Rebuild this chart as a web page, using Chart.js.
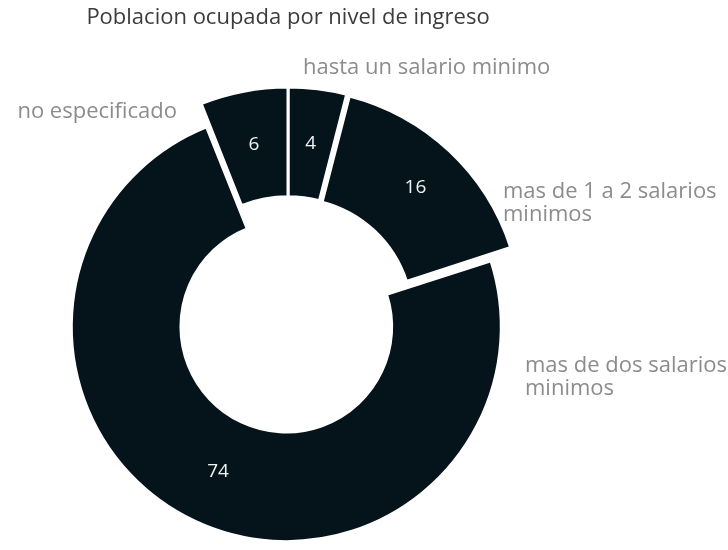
<!DOCTYPE html>
<html>
<head>
<meta charset="utf-8">
<script src="https://cdn.jsdelivr.net/npm/chart.js@4"></script>
<style>
  html, body { margin: 0; padding: 0; background: #fff; }
  #wrap { width: 728px; height: 550px; position: relative; }
</style>
</head>
<body>
<div id="wrap"><canvas id="ingresoChart"></canvas></div>
<script>
// Poblacion ocupada por nivel de ingreso (%)
const categories = [
    ['hasta un salario minimo'],
    ['mas de 1 a 2 salarios', 'minimos'],
    ['mas de dos salarios', 'minimos'],
    ['no especificado']
];
const shares = [4, 16, 74, 6];

// where each category name goes, measured from the ring centre
const labelSpots = [
    { dx: 15, dy: -255, align: 'left' },
    { dx: 215, dy: -131, align: 'left' },
    { dx: 237, dy: 43, align: 'left' },
    { dx: -111, dy: -211, align: 'right' }
];

// the small slices sit further out on the ring; the big one only
// cancels the growth that its offset adds
const radialPush = [21, 14, -4, 21];
const sliceOffset = [0, 24, 16, 0];

const sliceColor = '#05141a';

const pushSlices = {
    id: 'pushSlices',
    afterDatasetUpdate(chart, args) {
        args.meta.data.forEach((arc, i) => {
            arc.innerRadius += radialPush[i];
            arc.outerRadius += radialPush[i];
        });
    }
};

// values inside each slice, category names outside
const sliceLabels = {
    id: 'sliceLabels',
    afterDatasetsDraw(chart) {
        const ctx = chart.ctx;
        const arcs = chart.getDatasetMeta(0).data;
        ctx.save();
        ctx.textBaseline = 'middle';
        arcs.forEach((arc, i) => {
            const p = arc.getCenterPoint();
            ctx.font = '19px "Open Sans"';
            ctx.fillStyle = '#eef2f2';
            ctx.textAlign = 'center';
            ctx.fillText(String(shares[i]), p.x, p.y);

            const spot = labelSpots[i];
            ctx.font = '22px "Open Sans"';
            ctx.fillStyle = '#8c8c8c';
            ctx.textAlign = spot.align;
            categories[i].forEach((line, k) => {
                ctx.fillText(line, arc.x + spot.dx, arc.y + spot.dy + k * 23);
            });
        });
        ctx.restore();
    }
};

new Chart(document.getElementById('ingresoChart'), {
    type: 'doughnut',
    data: {
        labels: categories.map(c => c.join(' ')),
        datasets: [{
            data: shares,
            backgroundColor: sliceColor,
            borderColor: '#ffffff',
            borderWidth: 3,
            offset: sliceOffset,
            hoverOffset: 0
        }]
    },
    options: {
        responsive: true,
        maintainAspectRatio: false,
        animation: false,
        radius: 215,
        cutout: '49%',
        layout: { padding: { left: 0, right: 152, top: 0, bottom: 0 } },
        plugins: {
            legend: { display: false },
            tooltip: { enabled: false },
            title: {
                display: true,
                text: 'Poblacion ocupada por nivel de ingreso',
                color: '#3c3c3c',
                font: { family: '"Open Sans"', size: 22, weight: 'normal' },
                padding: { top: 5, bottom: 64.6 }
            }
        }
    },
    plugins: [pushSlices, sliceLabels]
});
</script>
</body>
</html>
